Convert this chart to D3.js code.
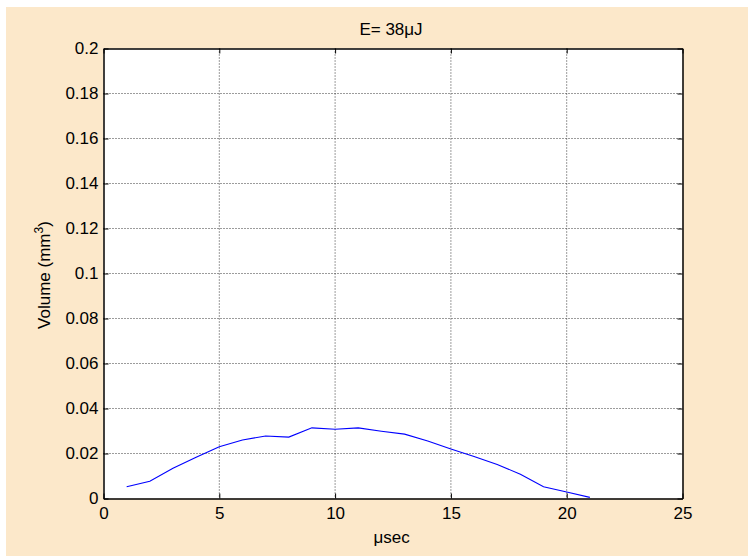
<!DOCTYPE html>
<html><head><meta charset="utf-8">
<script src="https://cdn.jsdelivr.net/npm/d3@7"></script>
<style>html,body{margin:0;padding:0;background:#fff;}svg{display:block;}</style>
</head><body>
<script>
const xValues = [1,2,3,4,5,6,7,8,9,10,11,12,13,14,15,16,17,18,19,20,21];
const volume = [0.0052,0.0077,0.0134,0.0183,0.0230,0.0260,0.0278,0.0273,0.0314,0.0308,0.0314,0.0299,0.0286,0.0256,0.0220,0.0187,0.0151,0.0108,0.0052,0.0029,0.0005];
const xTicks = [0,5,10,15,20,25];
const yTicks = [0,0.02,0.04,0.06,0.08,0.1,0.12,0.14,0.16,0.18,0.2];
const titleText = "E= 38";
const xLabelText = "sec";

const W = 748, H = 556;
const L = 103.5, R = 682.5, T = 48.5, B = 498.5;
const font = "'Liberation Sans', Arial, sans-serif";
const fs = "17px";

const svg = d3.select("body").append("svg").attr("width", W).attr("height", H);
svg.append("rect").attr("x",6).attr("y",7).attr("width",W-6).attr("height",H-7).attr("fill","#FCE8CA");
svg.append("rect").attr("x",L).attr("y",T).attr("width",R-L).attr("height",B-T).attr("fill","#fff");

const x = d3.scaleLinear().domain([0,25]).range([L,R]);
const y = d3.scaleLinear().domain([0,0.2]).range([B,T]);

// grid
const g = svg.append("g");
g.selectAll(".vg").data(xTicks.slice(1,-1)).enter().append("line")
  .attr("x1",d=>x(d)).attr("x2",d=>x(d)).attr("y1",T).attr("y2",B)
  .attr("stroke","#222").attr("stroke-width",0.9).attr("stroke-dasharray","1,2");
g.selectAll(".hg").data(yTicks.slice(1,-1)).enter().append("line")
  .attr("y1",d=>y(d)).attr("y2",d=>y(d)).attr("x1",L).attr("x2",R)
  .attr("stroke","#222").attr("stroke-width",0.9).attr("stroke-dasharray","1,2");

// line
const line = d3.line().x((d,i)=>x(xValues[i])).y(d=>y(d));
svg.append("path").datum(volume).attr("d",line).attr("fill","none").attr("stroke","#0000FF").attr("stroke-width",1.1);

// axes (inward ticks)
const tk = 5;
const axB = svg.append("g").attr("transform",`translate(0,${B})`)
  .call(d3.axisBottom(x).tickValues(xTicks).tickSizeInner(-tk).tickSizeOuter(0).tickPadding(8.5).tickFormat(d3.format("d")));
const axT = svg.append("g").attr("transform",`translate(0,${T})`)
  .call(d3.axisTop(x).tickValues(xTicks).tickSizeInner(-tk).tickSizeOuter(0).tickFormat(""));
const axL = svg.append("g").attr("transform",`translate(${L},0)`)
  .call(d3.axisLeft(y).tickValues(yTicks).tickSizeInner(-tk).tickSizeOuter(0).tickPadding(5).tickFormat(d=>d3.format("")(+d.toFixed(2))));
const axR = svg.append("g").attr("transform",`translate(${R},0)`)
  .call(d3.axisRight(y).tickValues(yTicks).tickSizeInner(-tk).tickSizeOuter(0).tickFormat(""));
[axB,axT,axL,axR].forEach(a=>{
  a.selectAll(".domain").attr("stroke","#000").attr("stroke-width",1.5);
  a.selectAll(".tick line").attr("stroke","#000").attr("stroke-width",1);
  a.selectAll("text").attr("fill","#000").style("font-family",font).style("font-size",fs);
});

function txt(xp, yp, rot) {
  return svg.append("text")
    .attr("transform", `translate(${xp},${yp})` + (rot ? ` rotate(${rot})` : ""))
    .attr("text-anchor","middle").attr("fill","#000")
    .style("font-family",font).style("font-size",fs);
}

// title
const t = txt(391, 35);
t.append("tspan").text(titleText);
t.append("tspan").text("\u03BC");
t.append("tspan").text("J");

// x label
const xl = txt(391.5, 543);
xl.append("tspan").text("\u03BC");
xl.append("tspan").text(xLabelText);

// y label
const yl = txt(50, 275, -90);
yl.append("tspan").text("Volume (mm");
yl.append("tspan").attr("dy",-7).style("font-size","12px").text("3");
yl.append("tspan").attr("dy",7).text(")");
</script>
</body></html>
